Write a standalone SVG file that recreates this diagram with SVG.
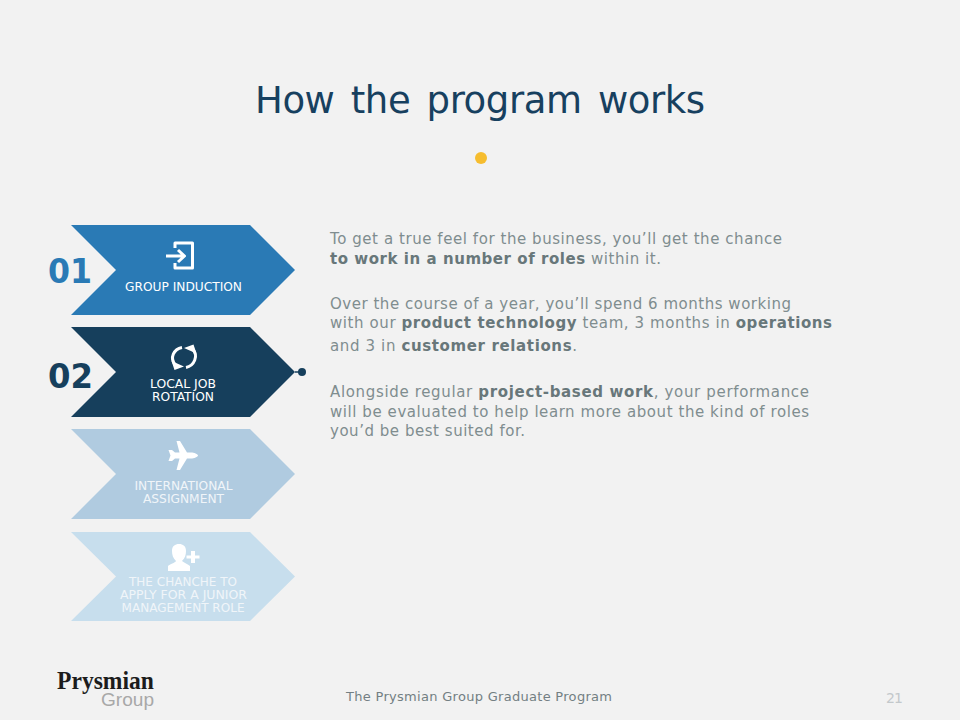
<svg xmlns="http://www.w3.org/2000/svg" width="960" height="720" viewBox="0 0 960 720">
<style>
text{font-family:"DejaVu Sans",Verdana,sans-serif}
.body{font-size:15px;fill:#7f8d8f}
.body tspan{font-weight:700;fill:#68777a}
.lab{font-size:11.8px;text-anchor:middle;fill:#fff}
.lab2{font-size:11.8px;text-anchor:middle;fill:#f0f5f9}
.num{font-size:33px;font-weight:700}
.ic{fill:none;stroke:#fff;stroke-width:3;stroke-linejoin:round}
.if{fill:#fff}
</style>
<rect width="960" height="720" fill="#f2f2f2"/>
<text id="title" x="255" y="113" font-size="37" fill="#17405f" word-spacing="5" textLength="450" lengthAdjust="spacing">How the program works</text>
<circle id="title-dot" cx="481" cy="158" r="6" fill="#f6bd2f"/>

<g id="node-1">
<polygon points="71,225 250,225 295,270 250,315 71,315 116,270" fill="#2a7ab5"/>
<path class="ic" d="M175,248V243H192.500V268H175V263"/>
<path class="ic" d="M166,256H184M178,250L184.500,256L178,262"/>
<text class="lab" x="183.500" y="291" textLength="117" lengthAdjust="spacingAndGlyphs">GROUP INDUCTION</text>
<text class="num" x="48" y="283" fill="#2a7ab5" textLength="44" lengthAdjust="spacingAndGlyphs">01</text>
</g>

<g id="node-2">
<polygon points="71,327 250,327 295,372 250,417 71,417 116,372" fill="#163f5c"/>
<path class="ic" d="M182,347.500C174,349 169,358 175.500,365M186,367.500C194,366 199,356 192.500,349" stroke-width="3.600"/>
<path class="if" d="M171.500,361L184,366.500L174.500,370ZM196.500,353.500L184,348L193.500,344.500Z"/>
<text class="lab" x="183" y="388" textLength="66" lengthAdjust="spacingAndGlyphs">LOCAL JOB</text>
<text class="lab" x="183" y="401" textLength="62" lengthAdjust="spacingAndGlyphs">ROTATION</text>
<text class="num" x="48" y="388" fill="#163f5c" textLength="45" lengthAdjust="spacingAndGlyphs">02</text>
</g>

<g id="node-3">
<polygon points="71,429 250,429 295,474 250,519 71,519 116,474" fill="#b0cbe0"/>
<path class="if" d="M198,455.500C198,454 194,452.500 191,452.500H187L180,441H176.500L179.500,452.500H175L172,450H168.500L170.500,455.500L168.500,461H172L175,458.500H179.500L176.500,470H180L187,458.500H191C194,458.500 198,457 198,455.500Z"/>
<text class="lab2" x="183.500" y="490" textLength="98" lengthAdjust="spacingAndGlyphs">INTERNATIONAL</text>
<text class="lab2" x="183.500" y="503" textLength="81" lengthAdjust="spacingAndGlyphs">ASSIGNMENT</text>
</g>

<g id="node-4">
<polygon points="71,532 250,532 295,576.500 250,621 71,621 116,576.500" fill="#c7deed"/>
<path class="if" d="M168,571V566C170,564 175,563 176,561C173,558 172,555 172,551C172,546 175,544 179,544C183,544 186,546 186,551C186,555 185,558 182,561C184,563 188,564 190,566V571Z"/>
<path class="if" d="M191,551H195V555.500H199.500V558.500H195V563H191V558.500H186.500V555.500H191Z"/>
<text class="lab2" x="183" y="586" textLength="108" lengthAdjust="spacingAndGlyphs">THE CHANCHE TO</text>
<text class="lab2" x="183.500" y="599" textLength="127" lengthAdjust="spacingAndGlyphs">APPLY FOR A JUNIOR</text>
<text class="lab2" x="183" y="612" textLength="123" lengthAdjust="spacingAndGlyphs">MANAGEMENT ROLE</text>
</g>

<g id="connectors">
<line x1="295" y1="372" x2="302" y2="372" stroke="#163f5c" stroke-width="1.500"/>
<circle cx="302" cy="372" r="4" fill="#163f5c"/>
</g>

<g id="body-text">
<text class="body" x="330" y="244" textLength="452" lengthAdjust="spacing">To get a true feel for the business, you’ll get the chance</text>
<text class="body" x="330" y="264" textLength="331" lengthAdjust="spacing"><tspan>to work in a number of roles</tspan> within it.</text>
<text class="body" x="330" y="309" textLength="461" lengthAdjust="spacing">Over the course of a year, you’ll spend 6 months working</text>
<text class="body" x="330" y="328" textLength="502" lengthAdjust="spacing">with our <tspan>product technology</tspan> team, 3 months in <tspan>operations</tspan></text>
<text class="body" x="330" y="351" textLength="247" lengthAdjust="spacing">and 3 in <tspan>customer relations</tspan>.</text>
<text class="body" x="330" y="397" textLength="479" lengthAdjust="spacing">Alongside regular <tspan>project-based work</tspan>, your performance</text>
<text class="body" x="330" y="417" textLength="479" lengthAdjust="spacing">will be evaluated to help learn more about the kind of roles</text>
<text class="body" x="330" y="436" textLength="195" lengthAdjust="spacing">you’d be best suited for.</text>
</g>

<g id="logo">
<text x="57" y="689" font-size="25" font-weight="700" fill="#1c1c1c" textLength="97" lengthAdjust="spacingAndGlyphs" style="font-family:'Liberation Serif',serif">Prysmian</text>
<text x="101" y="706" font-size="18" fill="#a8a8a8" textLength="53" lengthAdjust="spacingAndGlyphs" style="font-family:'Liberation Sans',sans-serif">Group</text>
</g>

<text id="footer" x="346" y="701" font-size="13" fill="#737f83" textLength="266" lengthAdjust="spacing">The Prysmian Group Graduate Program</text>
<text id="page-number" x="886" y="703" font-size="14" fill="#c3c8cb" textLength="17" lengthAdjust="spacing">21</text>
</svg>
